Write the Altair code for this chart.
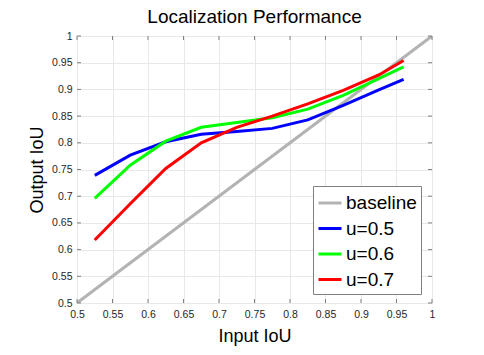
import altair as alt
import pandas as pd

x_in = [0.525, 0.575, 0.625, 0.675, 0.725, 0.775, 0.825, 0.875, 0.925, 0.96]
u05 = [0.739, 0.777, 0.802, 0.816, 0.821, 0.827, 0.843, 0.870, 0.899, 0.919]
u06 = [0.696, 0.758, 0.803, 0.829, 0.838, 0.847, 0.863, 0.889, 0.920, 0.942]
u07 = [0.618, 0.686, 0.752, 0.800, 0.829, 0.850, 0.873, 0.898, 0.927, 0.954]
base_x = [0.5, 1.0]
base_y = [0.5, 1.0]
ticks = [0.5, 0.55, 0.6, 0.65, 0.7, 0.75, 0.8, 0.85, 0.9, 0.95, 1.0]

names = ["baseline", "u=0.5", "u=0.6", "u=0.7"]
colors = ["#b3b3b3", "#0000ff", "#00ff00", "#ff0000"]

rows = []
for x, y in zip(base_x, base_y):
    rows.append({"x": x, "y": y, "s": "baseline"})
for nm, ys in zip(names[1:], [u05, u06, u07]):
    for x, y in zip(x_in, ys):
        rows.append({"x": x, "y": y, "s": nm})
df = pd.DataFrame(rows)
tdf = pd.DataFrame({"t": ticks})

W, H = 355, 267
FONT = "Liberation Sans"

xs = alt.Scale(domain=[0.5, 1.0], nice=False)
ys = alt.Scale(domain=[0.5, 1.0], nice=False)

axis_common = dict(values=ticks, format="~g", tickSize=0, grid=True, domain=False,
                   labelFlush=False, labelOverlap=False,
                   labelFont=FONT, labelFontSize=10.5, labelColor="#262626",
                   titleFont=FONT, titleFontSize=18, titleFontWeight="normal",
                   titleColor="#000000", gridColor="#e8e8e8", gridWidth=1)
x_axis = alt.Axis(labelPadding=6, titlePadding=8, **axis_common)
y_axis = alt.Axis(labelPadding=5, titlePadding=5, **axis_common)

lines = alt.Chart(df).mark_line(strokeWidth=3, clip=True).encode(
    x=alt.X("x:Q", scale=xs, title="Input IoU", axis=x_axis),
    y=alt.Y("y:Q", scale=ys, title="Output IoU", axis=y_axis),
    color=alt.Color("s:N", scale=alt.Scale(domain=names, range=colors),
                    sort=names,
                    legend=alt.Legend(title=None, orient="none", legendX=236, legendY=150,
                                      symbolType="stroke", symbolStrokeWidth=3,
                                      symbolSize=529, labelFontSize=19, labelFont=FONT,
                                      labelColor="#000000", rowPadding=2.5,
                                      padding=4, strokeColor="#808080",
                                      fillColor="#ffffff", labelOffset=3)),
    order=alt.Order("x:Q"),
)

tb = alt.Chart(tdf).mark_rule(color="#808080", strokeWidth=1)
xt_bot = tb.encode(x=alt.X("t:Q", scale=xs, title="Input IoU", axis=x_axis),
                   y=alt.value(H), y2=alt.value(H - 4))
xt_top = tb.encode(x=alt.X("t:Q", scale=xs, title="Input IoU", axis=x_axis),
                   y=alt.value(0), y2=alt.value(4))
yt_left = tb.encode(y=alt.Y("t:Q", scale=ys, title="Output IoU", axis=y_axis),
                    x=alt.value(0), x2=alt.value(4))
yt_right = tb.encode(y=alt.Y("t:Q", scale=ys, title="Output IoU", axis=y_axis),
                     x=alt.value(W), x2=alt.value(W - 4))

chart = alt.layer(lines, xt_bot, xt_top, yt_left, yt_right).properties(
    width=W, height=H,
    title=alt.Title("Localization Performance", font=FONT, fontSize=19,
                    fontWeight="normal", color="#000000", offset=4.5),
    autosize=alt.AutoSizeParams(type="none"),
    padding={"left": 69, "top": 28, "right": 44, "bottom": 44},
).configure_view(stroke="#808080", strokeWidth=1.2).configure(background="#ffffff")

chart.save("out.html", embed_options={"renderer": "svg", "actions": False})
